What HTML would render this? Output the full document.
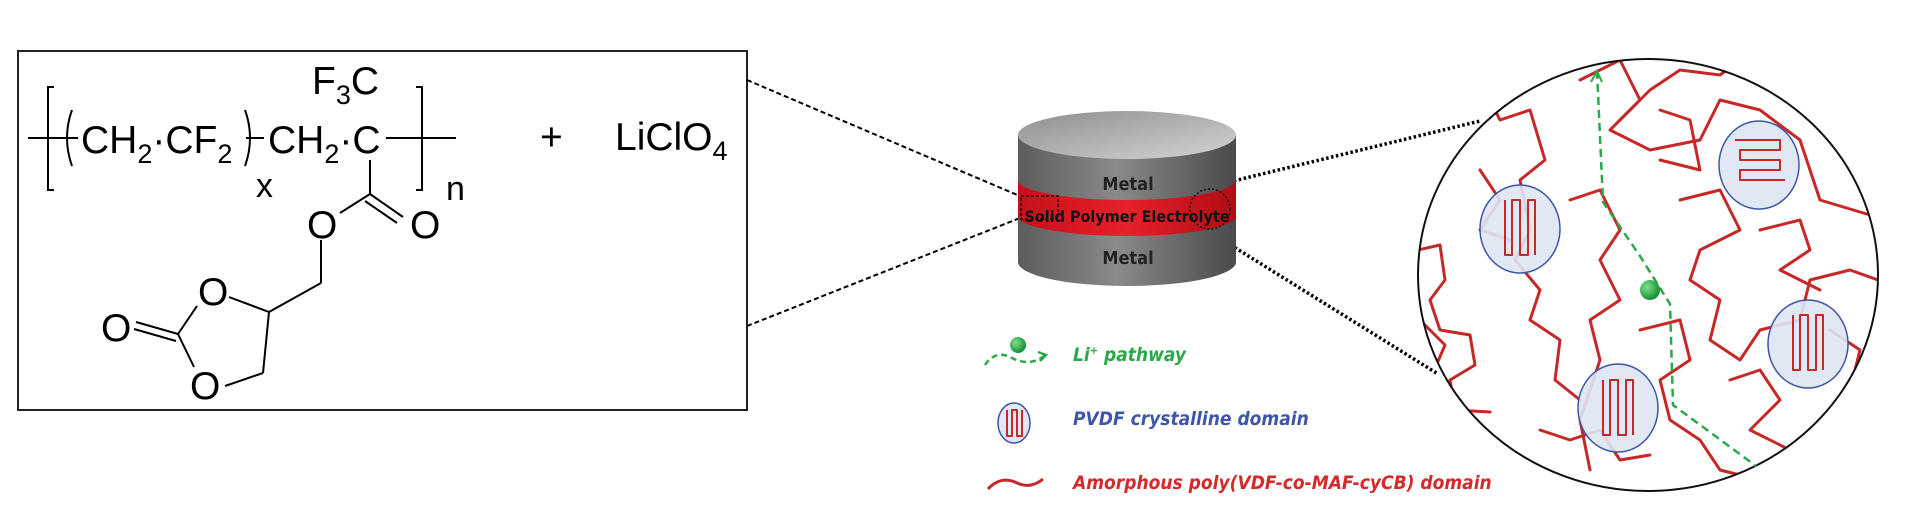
<!DOCTYPE html>
<html><head><meta charset="utf-8"><style>
html,body{margin:0;padding:0;background:#fff;}
svg{display:block;}
</style></head><body>
<svg width="1920" height="529" viewBox="0 0 1920 529" xmlns="http://www.w3.org/2000/svg" font-family="Liberation Sans, Arial, sans-serif">
<defs>
<linearGradient id="cyl" x1="0" x2="1" y1="0" y2="0">
<stop offset="0" stop-color="#5c5c5c"/><stop offset="0.45" stop-color="#8a8a8a"/><stop offset="1" stop-color="#4a4a4a"/></linearGradient>
<linearGradient id="top" x1="0" x2="1" y1="0" y2="1">
<stop offset="0" stop-color="#8e8e8e"/><stop offset="1" stop-color="#d4d4d4"/></linearGradient>
<linearGradient id="band" x1="0" x2="1" y1="0" y2="0">
<stop offset="0" stop-color="#c8101a"/><stop offset="0.5" stop-color="#e8202a"/><stop offset="1" stop-color="#b00c14"/></linearGradient>
<clipPath id="cc"><ellipse cx="1648" cy="275" rx="230" ry="216"/></clipPath>
<radialGradient id="ball" cx="0.35" cy="0.35" r="0.7"><stop offset="0" stop-color="#7fe08f"/><stop offset="1" stop-color="#0f8a2a"/></radialGradient>
</defs>

<!-- left box -->
<rect x="18" y="51" width="729" height="359" fill="#fff" stroke="#222" stroke-width="2"/>
<g fill="#000" font-size="39">
<line x1="28" y1="138" x2="456" y2="138" stroke="#000" stroke-width="2"/>
<path d="M54,87 L48,87 L48,190 L54,190" fill="none" stroke="#000" stroke-width="2"/>
<path d="M416,87 L422,87 L422,190 L416,190" fill="none" stroke="#000" stroke-width="2"/>
<path d="M72,110 Q62,138 72,166" fill="none" stroke="#000" stroke-width="2"/>
<path d="M245,110 Q255,138 245,166" fill="none" stroke="#000" stroke-width="2"/>
<rect x="78" y="120" width="168" height="40" fill="#fff"/>
<rect x="264" y="120" width="122" height="40" fill="#fff"/>
<text x="81" y="153">CH<tspan font-size="27" dy="10">2</tspan><tspan dy="-10">·CF</tspan><tspan font-size="27" dy="10">2</tspan></text>
<text x="268" y="153">CH<tspan font-size="27" dy="10">2</tspan><tspan dy="-10">·C</tspan></text>
<text x="312" y="94">F<tspan font-size="27" dy="10">3</tspan><tspan dy="-10">C</tspan></text>
<text x="446" y="200" font-size="34">n</text>
<text x="256" y="197" font-size="34">x</text>
<text x="540" y="150">+</text>
<text x="615" y="150">LiClO<tspan font-size="27" dy="10">4</tspan></text>
<g stroke="#000" stroke-width="2" fill="none">
<line x1="370" y1="160" x2="370" y2="194"/>
<line x1="370" y1="194" x2="340" y2="213"/>
<line x1="370" y1="194" x2="403" y2="217"/>
<line x1="365" y1="201" x2="397" y2="223"/>
<line x1="321" y1="240" x2="321" y2="283"/>
<line x1="321" y1="283" x2="269" y2="312"/>
<line x1="269" y1="312" x2="229" y2="297"/>
<line x1="269" y1="312" x2="263" y2="373"/>
<line x1="263" y1="373" x2="225" y2="386"/>
<line x1="178" y1="334" x2="197" y2="306"/>
<line x1="178" y1="334" x2="194" y2="367"/>
<line x1="178" y1="334" x2="136" y2="322"/>
<line x1="176" y1="341" x2="134" y2="329"/>
</g>
<text x="307" y="238">O</text>
<text x="410" y="238">O</text>
<text x="198" y="305">O</text>
<text x="101" y="341">O</text>
<text x="190" y="399">O</text>
</g>

<!-- dashed connectors -->
<g stroke="#000" stroke-width="2" stroke-dasharray="5,3" fill="none">
<line x1="747" y1="80" x2="1022" y2="197"/>
<line x1="747" y1="326" x2="1020" y2="218"/>
</g>
<g stroke="#000" stroke-width="3.5" stroke-dasharray="2.5,2.5" fill="none">
<line x1="1229" y1="182" x2="1480" y2="121"/>
<line x1="1205" y1="229" x2="1438" y2="374"/>
</g>

<!-- cylinder -->
<path d="M1018,135 L1018,262 A109,24 0 0 0 1236,262 L1236,135 Z" fill="url(#cyl)"/>
<path d="M1018,180 A109,20 0 0 0 1236,180 L1236,216 A109,20 0 0 1 1018,216 Z" fill="url(#band)"/>
<ellipse cx="1127" cy="135" rx="109" ry="24" fill="url(#top)"/>
<g font-family="DejaVu Sans Condensed, DejaVu Sans, sans-serif" font-weight="bold" font-size="18" fill="#222" text-anchor="middle">
<text x="1128" y="190">Metal</text>
<text x="1128" y="264">Metal</text>
<text x="1127" y="222" font-size="16" fill="#111">Solid Polymer Electrolyte</text>
</g>
<rect x="1021" y="196" width="37" height="23" fill="none" stroke="#111" stroke-width="1.5" stroke-dasharray="3,2"/>
<ellipse cx="1210" cy="209" rx="20" ry="20" fill="none" stroke="#111" stroke-width="1.5" stroke-dasharray="2,2"/>

<!-- circle -->
<ellipse cx="1648" cy="275" rx="230" ry="216" fill="#fff"/>
<g clip-path="url(#cc)" fill="none" stroke="#c62828" stroke-width="3" stroke-linejoin="round" stroke-linecap="round">
<path d="M1418,250 L1440,245 L1445,280 L1430,300 L1440,330 L1470,335 L1475,365 L1450,380 L1455,410 L1490,412"/>
<path d="M1470,60 L1500,120 L1530,110 L1545,160 L1520,180 L1530,230 L1515,260 L1540,290 L1530,320 L1560,340 L1555,380 L1580,400"/>
<path d="M1580,80 L1620,60 L1640,100 L1610,130 L1650,150 L1700,140 L1720,100 L1760,110 L1800,140 L1820,200 L1870,215"/>
<path d="M1620,120 L1650,90 L1680,70 L1720,75 L1740,60"/>
<path d="M1570,200 L1600,190 L1620,230 L1600,260 L1620,300 L1590,320 L1600,360 L1580,420 L1590,470"/>
<path d="M1680,200 L1720,190 L1740,230 L1700,250 L1690,280 L1720,300 L1710,340 L1740,360 L1760,330 L1800,320 L1810,280 L1850,270 L1878,280"/>
<path d="M1640,330 L1680,320 L1690,360 L1660,380 L1670,420 L1700,440 L1720,470 L1760,480"/>
<path d="M1760,230 L1800,220 L1810,250 L1780,270 L1820,290"/>
<path d="M1730,380 L1760,370 L1780,400 L1750,430 L1790,450 L1830,440 L1860,410"/>
<path d="M1480,170 L1500,200 L1480,230 L1510,240"/>
<path d="M1540,430 L1570,440 L1600,430 L1620,460 L1650,455"/>
<path d="M1660,160 L1700,170 L1690,120 L1660,110"/>
<path d="M1420,320 L1445,345 L1430,380 L1460,400"/>
<path d="M1830,330 L1860,350 L1850,390 L1878,400"/>
</g>
<g stroke="#3f55a5" stroke-width="1.5" fill="#dde6f3" fill-opacity="0.9">
<ellipse cx="1759" cy="165" rx="40" ry="44"/>
<ellipse cx="1520" cy="229" rx="40" ry="44"/>
<ellipse cx="1808" cy="344" rx="40" ry="44"/>
<ellipse cx="1618" cy="408" rx="40" ry="44"/>
<ellipse cx="1014" cy="423" rx="16" ry="20"/>
</g>
<g fill="none" stroke="#c62828" stroke-width="2" stroke-linejoin="round">
<path d="M1735,140 L1780,140 L1780,150 L1740,150 L1740,160 L1780,160 L1780,170 L1740,170 L1740,180 L1785,180"/>
<path d="M1505,200 L1505,255 L1512,255 L1512,200 L1520,200 L1520,255 L1528,255 L1528,200 L1535,200 L1535,255"/>
<path d="M1793,315 L1793,370 L1800,370 L1800,315 L1808,315 L1808,370 L1816,370 L1816,315 L1823,315 L1823,370"/>
<path d="M1603,380 L1603,435 L1610,435 L1610,380 L1618,380 L1618,435 L1626,435 L1626,380 L1633,380 L1633,435"/>
<path d="M1007,410 L1007,436 L1012,436 L1012,410 L1017,410 L1017,436 L1022,436 L1022,410"/>
</g>
<ellipse cx="1648" cy="275" rx="230" ry="216" fill="none" stroke="#111" stroke-width="2"/>
<path d="M1597,71 L1603,202 L1640,256 L1670,304 L1673,405 L1756,466" fill="none" stroke="#2aa84a" stroke-width="2.5" stroke-dasharray="8,5"/>
<path d="M1591,82 L1597,71 L1602,82" fill="none" stroke="#2aa84a" stroke-width="2"/>
<circle cx="1650" cy="290" r="10" fill="url(#ball)"/>

<!-- legend -->
<circle cx="1018" cy="345" r="8" fill="url(#ball)"/>
<path d="M985,365 Q995,350 1010,357 Q1030,368 1045,355" fill="none" stroke="#2aa84a" stroke-width="2.5" stroke-dasharray="6,4"/>
<path d="M1038,352 L1046,355 L1040,361" fill="none" stroke="#2aa84a" stroke-width="2.5"/>
<path d="M988,489 Q1000,476 1015,482 Q1030,490 1043,479" fill="none" stroke="#c62828" stroke-width="3"/>
<g font-family="DejaVu Sans Condensed, DejaVu Sans, sans-serif" font-style="italic" font-weight="bold" font-size="19">
<text x="1073" y="361" fill="#2aa84a">Li<tspan font-size="11" dy="-7">+</tspan><tspan dy="7"> pathway</tspan></text>
<text x="1073" y="425" fill="#3f55a5">PVDF crystalline domain</text>
<text x="1073" y="489" fill="#d42a2a">Amorphous poly(VDF-co-MAF-cyCB) domain</text>
</g>
</svg>
</body></html>
